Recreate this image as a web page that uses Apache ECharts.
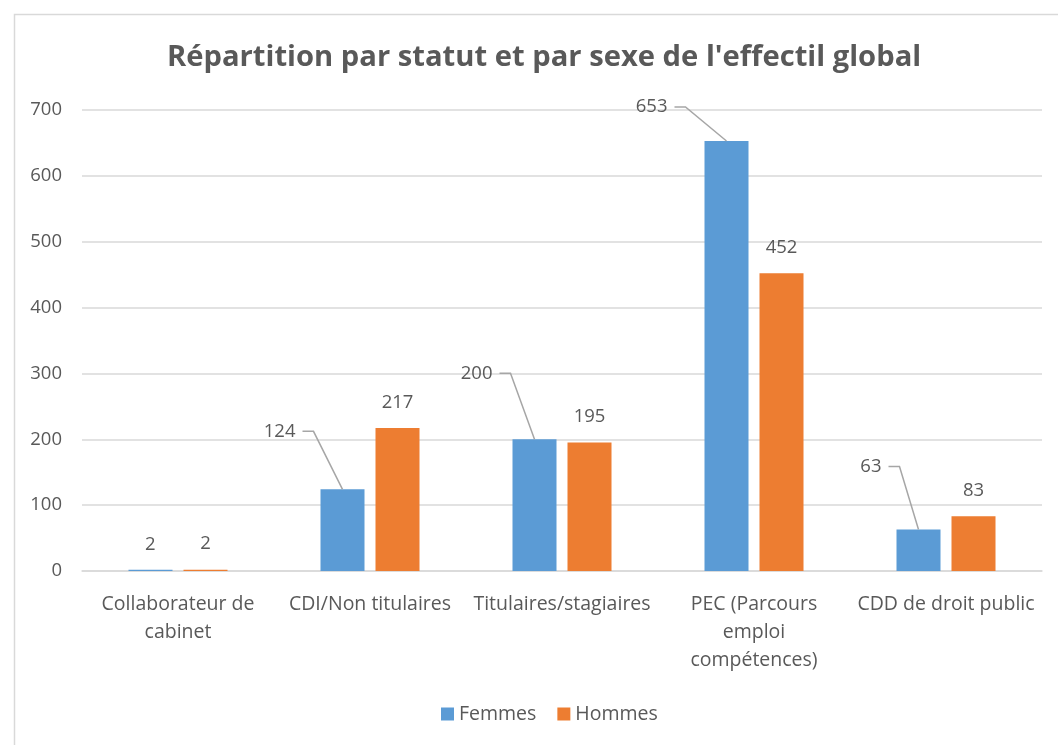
<!DOCTYPE html>
<html><head><meta charset="utf-8">
<script src="https://cdn.jsdelivr.net/npm/echarts@6/dist/echarts.min.js"></script>
<style>html,body{margin:0;padding:0;background:#fff}#c{width:1058px;height:745px}</style>
</head><body><div id="c"></div>
<script>
const titleText = "Répartition par statut et par sexe de l'effectil global";
const categories = ["Collaborateur de\ncabinet", "CDI/Non titulaires", "Titulaires/stagiaires", "PEC (Parcours\nemploi\ncompétences)", "CDD de droit public"];
const femmes = [2, 124, 200, 653, 63];
const hommes = [2, 217, 195, 452, 83];
const seriesNames = ["Femmes", "Hommes"];
const yTicks = { min: 0, max: 700, interval: 100 };

// layout only: where each Femmes label sits relative to its bar top (pixels),
// [dx of text right edge, dy of text middle, draw leader line]
const femmesLabelLayout = [[5, -25, false], [-47, -58, true], [-42, -66, true], [-59, -34, true], [-37, -63, true]];
const BAR_W = 44, BAR_GAP = 11;

const FONT = "'Open Sans', sans-serif";
const TXT = '#595959';
const chart = echarts.init(document.getElementById('c'), null, { renderer: 'canvas' });
chart.setOption({
  animation: false,
  backgroundColor: '#fff',
  title: {
    text: titleText, left: 162, top: 38,
    textStyle: { fontFamily: FONT, fontWeight: 'bold', fontSize: 29.2, color: TXT }
  },
  graphic: [{
    type: 'rect', left: 12, top: 12, silent: true,
    shape: { width: 1070, height: 760 },
    style: { fill: 'none', stroke: '#d9d9d9', lineWidth: 1.5 }
  }],
  grid: { left: 82, right: 16, top: 110, bottom: 174, containLabel: false },
  legend: {
    bottom: 16, left: 436, itemWidth: 13, itemHeight: 13, itemGap: 21,
    icon: 'rect',
    textStyle: { fontFamily: FONT, fontSize: 19.5, color: TXT },
    data: seriesNames
  },
  xAxis: {
    type: 'category', data: categories,
    axisLine: { lineStyle: { color: '#d9d9d9', width: 1.5 } },
    axisTick: { show: false },
    axisLabel: { fontFamily: FONT, fontSize: 19.5, color: TXT, margin: 19, lineHeight: 28, interval: 0 }
  },
  yAxis: {
    type: 'value', min: yTicks.min, max: yTicks.max, interval: yTicks.interval,
    axisLine: { show: false }, axisTick: { show: false },
    splitLine: { lineStyle: { color: '#d9d9d9', width: 1.5 } },
    axisLabel: { fontFamily: FONT, fontSize: 18.5, color: TXT, margin: 20 }
  },
  series: [
    {
      name: seriesNames[0], type: 'bar', data: femmes, barWidth: BAR_W, barGap: (BAR_GAP / BAR_W * 100) + '%',
      itemStyle: { color: '#5b9bd5' }
    },
    {
      name: seriesNames[1], type: 'bar', data: hommes, barWidth: BAR_W,
      itemStyle: { color: '#ed7d31' },
      label: { show: true, position: 'top', distance: 16, fontFamily: FONT, fontSize: 18.5, color: TXT }
    },
    {
      name: 'femmesLabels', type: 'custom', z: 5, silent: true,
      data: femmes.map((v, i) => [i, v]),
      renderItem: function (params, api) {
        const i = params.dataIndex;
        const p = api.coord([api.value(0), api.value(1)]);
        const bx = p[0] - (BAR_W + BAR_GAP) / 2, by = p[1];
        const L = femmesLabelLayout[i];
        const tx = bx + L[0], ty = by + L[1];
        const children = [{
          type: 'text', x: tx, y: ty,
          style: { text: String(femmes[i]), fill: TXT, fontFamily: FONT, fontSize: 18.5, align: 'right', verticalAlign: 'middle' }
        }];
        if (L[2]) {
          children.push({
            type: 'polyline',
            shape: { points: [[tx + 7, ty], [tx + 18, ty], [bx, by]] },
            style: { stroke: '#a6a6a6', lineWidth: 1.5, fill: 'none' }
          });
        }
        return { type: 'group', children: children };
      }
    }
  ]
});
</script></body></html>
